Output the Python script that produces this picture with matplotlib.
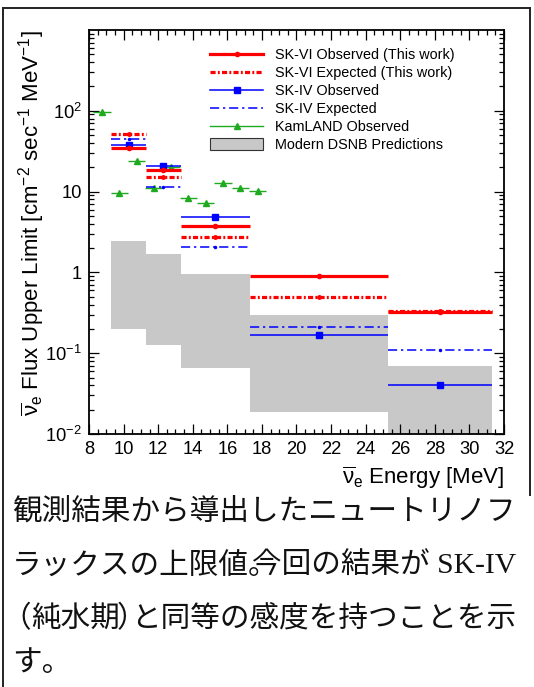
import matplotlib
matplotlib.use("Agg")
import matplotlib.pyplot as plt
from matplotlib.lines import Line2D
from matplotlib.patches import Patch
from matplotlib.ticker import MultipleLocator, LogLocator, NullFormatter

plt.rcParams['font.family'] = ['Liberation Sans', 'DejaVu Sans']
plt.rcParams['mathtext.fontset'] = 'custom'
plt.rcParams['mathtext.rm'] = 'Liberation Sans'
plt.rcParams['mathtext.it'] = 'Liberation Sans:italic'
plt.rcParams['mathtext.bf'] = 'Liberation Sans:bold'

# energy bins [MeV]
bin_lo = [9.3, 11.3, 13.3, 17.3, 25.3]
bin_hi = [11.3, 13.3, 17.3, 25.3, 31.3]
bin_mid = [10.3, 12.3, 15.3, 21.3, 28.3]

# flux upper limits [cm^-2 s^-1 MeV^-1]
skvi_obs = [34.5, 18.6, 3.8, 0.89, 0.32]
skvi_exp = [51.5, 15.2, 2.74, 0.49, 0.33]
skiv_obs = [37.6, 20.9, 4.8, 0.168, 0.040]
skiv_exp = [45.0, 11.5, 2.07, 0.21, 0.108]

kam_x = [8.75, 9.75, 10.75, 11.75, 12.75, 13.75, 14.75, 15.75, 16.75, 17.75]
kam_y = [98, 9.5, 24, 11.2, 19.9, 8.4, 7.3, 12.9, 11.2, 10.1]
kam_xerr = [0.5, 0.5, 0.5, 0.5, 0.5, 0.5, 0.5, 0.5, 0.5, 0.5]

# DSNB prediction band
dsnb_lo = [0.198, 0.128, 0.066, 0.0188, 0.001]
dsnb_hi = [2.44, 1.67, 0.945, 0.30, 0.069]

red = '#ff0000'
blue = '#0000ff'
green = '#1faa1f'
gray = '#c8c8c8'

W, H = 534, 687
fig = plt.figure(figsize=(W / 100, H / 100), dpi=100)
ax = fig.add_axes([89 / W, 1 - 434 / H, 415 / W, 404 / H])

# band
widths = [h - l for l, h in zip(bin_lo, bin_hi)]
heights = [h - l for l, h in zip(dsnb_lo, dsnb_hi)]
ax.bar(bin_lo, heights, width=widths, bottom=dsnb_lo, align='edge',
       color=gray, linewidth=0, zorder=1)

xerr = [[m - l for l, m in zip(bin_lo, bin_mid)],
        [h - m for m, h in zip(bin_mid, bin_hi)]]

# KamLAND
ax.errorbar(kam_x, kam_y, xerr=kam_xerr, fmt='^', ms=4.5, color=green,
            elinewidth=1.0, capsize=0, zorder=2)

# SK-IV
e = ax.errorbar(bin_mid, skiv_exp, xerr=xerr, fmt='o', ms=1.5, color=blue,
                elinewidth=1.1, capsize=0, zorder=3)
e[2][0].set_linestyle((0, (6, 2.5, 1.5, 2.5)))
ax.errorbar(bin_mid, skiv_obs, xerr=xerr, fmt='s', ms=4.5, color=blue,
            elinewidth=1.1, capsize=0, zorder=3)

# SK-VI
e = ax.errorbar(bin_mid, skvi_exp, xerr=xerr, fmt='o', ms=2.5, color=red,
                elinewidth=2.3, capsize=0, zorder=4)
e[2][0].set_linestyle((0, (1.6, 0.7, 0.6, 0.7)))
ax.errorbar(bin_mid, skvi_obs, xerr=xerr, fmt='o', ms=3, color=red,
            elinewidth=2.3, capsize=0, zorder=5)

ax.set_yscale('log')
ax.set_xlim(8, 32)
ax.set_ylim(0.01, 1000)

ax.set_xticks(range(8, 33, 2))
ax.xaxis.set_minor_locator(MultipleLocator(0.5))
ax.set_yticks([0.01, 0.1, 1, 10, 100],
              ['$10^{-2}$', '$10^{-1}$', '1', '10', '$10^{2}$'])
ax.yaxis.set_minor_locator(LogLocator(base=10, subs=range(2, 10)))
ax.yaxis.set_minor_formatter(NullFormatter())

ax.tick_params(which='both', direction='in', top=True, right=True,
               width=0.9, labelsize=13.2, pad=5)
ax.tick_params(which='major', length=7.5)
ax.tick_params(which='minor', length=3.8)
for s in ax.spines.values():
    s.set_linewidth(1.3)

ax.set_xlabel(r'$\overline{\mathrm{\nu}}_{\mathrm{e}}$ Energy [MeV]',
              fontsize=16, loc='right')
ax.xaxis.set_label_coords(1.0, -0.075)
ax.set_ylabel(r'$\overline{\mathrm{\nu}}_{\mathrm{e}}$ Flux Upper Limit '
              r'[cm$^{-2}$ sec$^{-1}$ MeV$^{-1}$]', fontsize=16, loc='top')
ax.yaxis.set_label_coords(-0.1, 1.0)

handles = [
    Line2D([], [], color=red, lw=2.3, marker='o', ms=3),
    Line2D([], [], color=red, lw=2.3, ls=(0, (1.6, 0.7, 0.6, 0.7))),
    Line2D([], [], color=blue, lw=1.1, marker='s', ms=4.5),
    Line2D([], [], color=blue, lw=1.1, ls=(0, (6, 2.5, 1.5, 2.5))),
    Line2D([], [], color=green, lw=1.0, marker='^', ms=4.5),
    Patch(facecolor=gray, edgecolor='#333333', linewidth=0.8),
]
labels = ['SK-VI Observed (This work)', 'SK-VI Expected (This work)',
          'SK-IV Observed', 'SK-IV Expected', 'KamLAND Observed',
          'Modern DSNB Predictions']
ax.legend(handles, labels, loc='upper left',
          bbox_to_anchor=(210 / W, 1 - 48 / H), bbox_transform=fig.transFigure,
          frameon=False, fontsize=10.4, handlelength=3.7, handletextpad=0.8,
          handleheight=0.85, labelspacing=0.28, borderpad=0, borderaxespad=0,
          numpoints=1)

# outer frame of the panel
frame_kw = dict(color='#222222', lw=1.4, transform=fig.transFigure)
fig.add_artist(Line2D([3 / W, 530 / W], [1 - 8 / H, 1 - 8 / H], **frame_kw))
fig.add_artist(Line2D([3 / W, 3 / W], [1 - 8 / H, 0], **frame_kw))
fig.add_artist(Line2D([530 / W, 530 / W], [1 - 8 / H, 1 - 495 / H], **frame_kw))

# caption, set in pieces so the punctuation sits tight like the original
cap_kw = dict(fontsize=21.3, va='center', family=['Liberation Serif', 'Noto Sans CJK JP'],
              color='#111111')
fig.text(12 / W, 1 - 512 / H, '観測結果から導出したニュートリノフ', ha='left', **cap_kw)
fig.text(12 / W, 1 - 566 / H, 'ラックスの上限値。', ha='left', **cap_kw)
fig.text(516 / W, 1 - 566 / H, '今回の結果が SK-IV', ha='right', **cap_kw)
fig.text(1.5 / W, 1 - 619 / H, '（', ha='left', **cap_kw)
fig.text(31 / W, 1 - 619 / H, '純水期', ha='left', **cap_kw)
fig.text(117 / W, 1 - 619 / H, '）', ha='left', **cap_kw)
fig.text(516 / W, 1 - 619 / H, 'と同等の感度を持つことを示', ha='right', **cap_kw)
fig.text(12 / W, 1 - 664 / H, 'す。', ha='left', **cap_kw)

fig.savefig('out.png', dpi=100)
